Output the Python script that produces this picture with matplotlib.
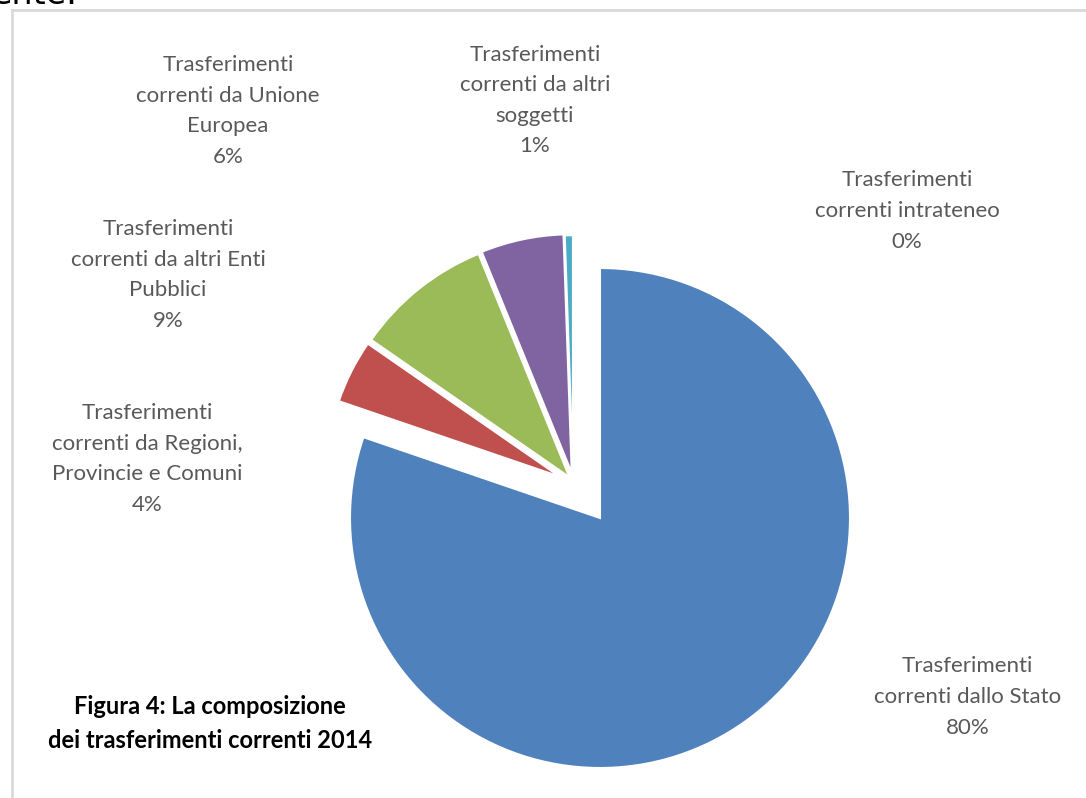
import matplotlib.pyplot as plt
from matplotlib.lines import Line2D

# Composizione dei trasferimenti correnti 2014 (valori in %)
categories = [
    "Trasferimenti\ncorrenti dallo Stato",
    "Trasferimenti\ncorrenti da Regioni,\nProvincie e Comuni",
    "Trasferimenti\ncorrenti da altri Enti\nPubblici",
    "Trasferimenti\ncorrenti da Unione\nEuropea",
    "Trasferimenti\ncorrenti da altri\nsoggetti",
    "Trasferimenti\ncorrenti intrateneo",
]
shares = [80.2, 4.4, 9.2, 5.6, 0.55, 0.0]
colors = ["#4F81BD", "#C0504D", "#9BBB59", "#8064A2", "#4BACC6", "#F79646"]

# label anchor positions (pie radius = 1)
label_pos = [(1.47, -0.716), (-1.812, 0.236), (-1.728, 0.972), (-1.488, 1.628), (-0.26, 1.67), (1.228, 1.228)]

# wedge placement: the small slices are pulled out of the pie
wedge_center = [(0, 0), (-0.16, 0.165), (-0.122, 0.163), (-0.113, 0.18), (-0.108, 0.176), (-0.108, 0.176)]
wedge_radius = [1.0, 0.935, 0.965, 0.955, 0.955, 0.955]

fig = plt.figure(figsize=(10.86, 7.98), dpi=100)
ax = fig.add_axes([0, 0, 1, 1])

wedges, _ = ax.pie(shares, colors=colors, startangle=90, counterclock=False,
                   wedgeprops=dict(edgecolor="white", linewidth=1.5))
for w, c, r in zip(wedges, wedge_center, wedge_radius):
    w.set_center(c)
    w.set_radius(r)

for name, val, (x, y) in zip(categories, shares, label_pos):
    ax.text(x, y, f"{name}\n{round(val):.0f}%", ha="center", va="center",
            fontsize=16, family="Lato", color="#595959", linespacing=1.66)

ax.set_xlim(-2.4, 1.944)
ax.set_ylim(-1.12, 2.072)
ax.set_aspect("equal")
ax.axis("off")

ax.text(-1.56, -0.822, "Figura 4: La composizione\ndei trasferimenti correnti 2014",
        ha="center", va="center", fontsize=17, family="Lato",
        fontweight="bold", color="black", linespacing=1.55)

# chart frame and the text line above it
fig.add_artist(Line2D([0.0107, 0.0107], [0.0, 0.987], color="#D9D9D9", lw=2))
fig.add_artist(Line2D([0.0107, 1.0], [0.987, 0.987], color="#D9D9D9", lw=2))
fig.text(-0.008, 0.995, "ente.", fontsize=24, family="DejaVu Sans", color="black",
         ha="left", va="baseline")

fig.savefig("out.png", dpi=100)
